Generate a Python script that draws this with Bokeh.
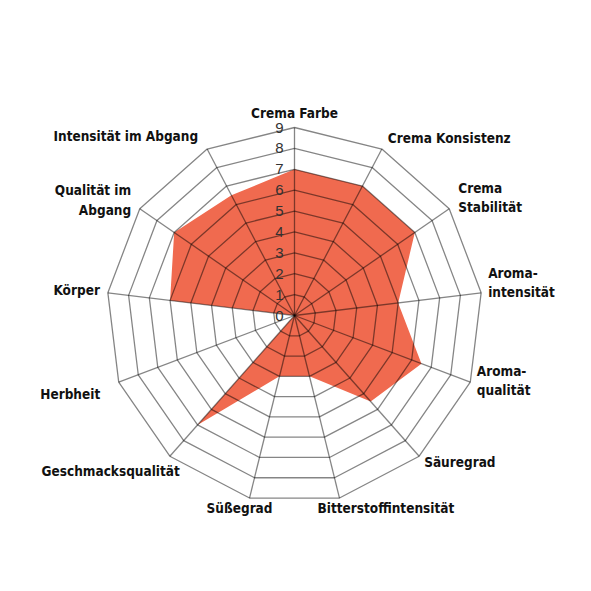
import numpy as np
from bokeh.plotting import figure
from bokeh.models import ColumnDataSource
from bokeh.core.properties import value
from bokeh.embed import file_html
from bokeh.resources import INLINE

# ---- data ----
categories = ["Crema Farbe", "Crema Konsistenz", "Crema\nStabilität", "Aroma-\nintensität",
              "Aroma-\nqualität", "Säuregrad", "Bitterstoffintensität", "Süßegrad",
              "Geschmacksqualität", "Herbheit", "Körper", "Qualität im\nAbgang",
              "Intensität im Abgang"]
scores = [7, 7, 7, 5, 6.5, 5.5, 3, 3, 7, 0, 6, 7, 6.5]
tick_values = [0, 1, 2, 3, 4, 5, 6, 7, 8, 9]
r_max = 9

# ---- layout (label placement in screen px relative to outer vertex) ----
label_align = ["center", "left", "left", "left", "left", "left", "left",
               "right", "right", "right", "right", "right", "right"]
label_dx = [0, 6, 9, 7, 6.5, 5, -22, 23, 10, -18.5, -8, -8.6, -9]
label_dy = [-15, -11, -11, -10, -2, 6, 10, 10, 15, 12, -2.6, -8.7, -13]

n = len(categories)
ang = 2 * np.pi * np.arange(n) / n

W = H = 575
px_per_unit = 188 / r_max
cx, cy = 294, 315
p = figure(width=W, height=H, output_backend="svg", toolbar_location=None,
           x_range=(-cx / px_per_unit, (W - cx) / px_per_unit),
           y_range=(-(H - cy) / px_per_unit, cy / px_per_unit),
           min_border=0, outline_line_color=None)
p.axis.visible = False
p.grid.visible = False
p.background_fill_color = "white"

# filled data polygon
sx = [s * np.sin(a) for s, a in zip(scores, ang)]
sy = [s * np.cos(a) for s, a in zip(scores, ang)]
p.patch(sx, sy, fill_color="#F06A4F", line_color=None)

# rings
ring_x = [list(t * np.sin(np.append(ang, 0))) for t in tick_values[1:]]
ring_y = [list(t * np.cos(np.append(ang, 0))) for t in tick_values[1:]]
p.multi_line(ring_x, ring_y, line_color="black", line_alpha=0.48, line_width=1.3)

# spokes
spx = [[0, r_max * np.sin(a)] for a in ang]
spy = [[0, r_max * np.cos(a)] for a in ang]
p.multi_line(spx, spy, line_color="black", line_alpha=0.48, line_width=1.3)

# tick labels
p.text(x=[0] * len(tick_values), y=tick_values, text=[str(t) for t in tick_values],
       text_align="right", text_baseline="middle", x_offset=-11,
       text_font=value("Liberation Sans"), text_font_size="15px", text_color="#333333")

# category labels
src = ColumnDataSource(dict(
    x=list(r_max * np.sin(ang)), y=list(r_max * np.cos(ang)), text=categories,
    align=label_align, dx=label_dx, dy=label_dy))
p.text(x="x", y="y", text="text", source=src, text_align="align", text_baseline="middle",
       x_offset="dx", y_offset="dy", text_font=value("DejaVu Sans Condensed"),
       text_font_style="bold", text_font_size="13.5px", text_color="#111111",
       text_line_height=1.2)

open("out.html", "w").write(file_html(p, INLINE))
